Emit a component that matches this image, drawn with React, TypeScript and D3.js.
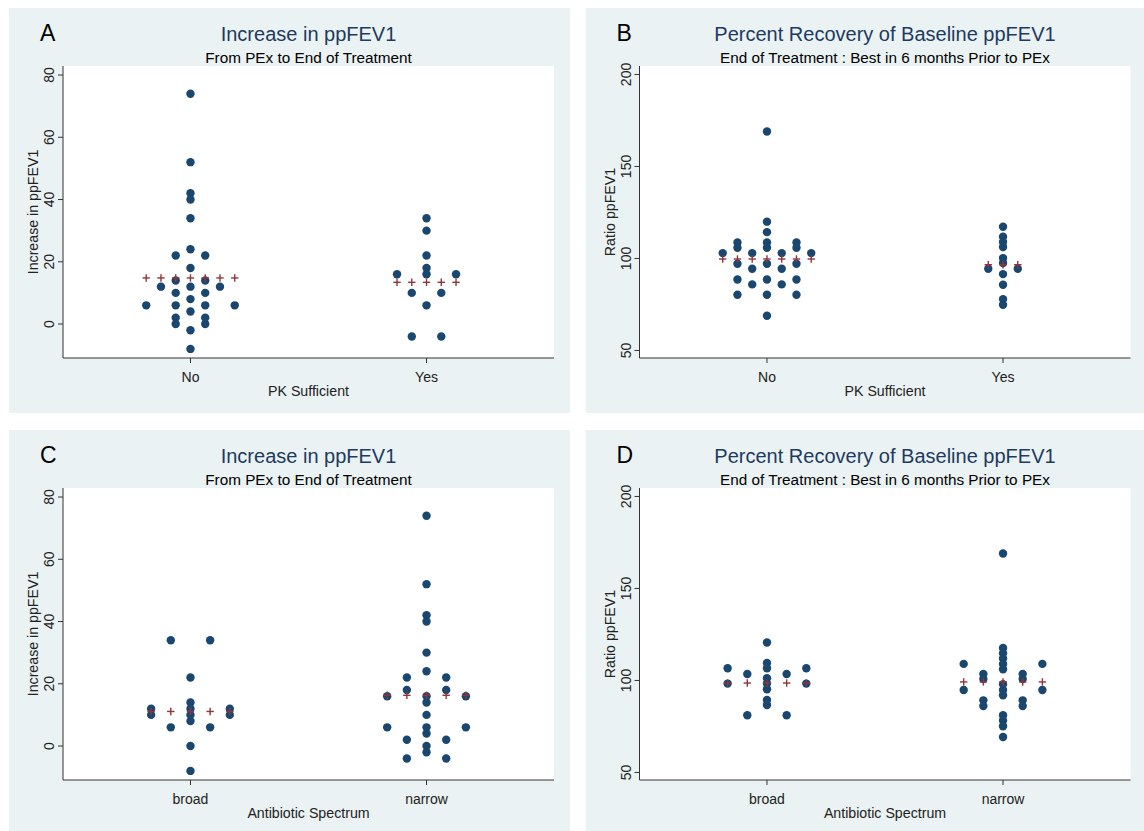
import React from 'react';
import * as d3 from 'd3';

// ---------- data ----------
const categoriesPK = ['No', 'Yes'];
const categoriesAB = ['broad', 'narrow'];
const ticksIncrease = [0, 20, 40, 60, 80];
const ticksRatio = [50, 100, 150, 200];

// Increase in ppFEV1 by PK Sufficient
const incNo = [74, 52, 42, 40, 34, 24, 22, 22, 18, 14, 14, 12, 12, 12, 10, 10, 8, 6, 6, 6, 6, 4, 2, 2, 0, 0, -2, -8];
const incYes = [34, 30, 22, 18, 16, 16, 16, 10, 10, 6, -4, -4];
// Ratio ppFEV1 by PK Sufficient
const ratioNo = [169, 120, 114.3, 108.7, 108.7, 108.7, 105.8, 105.8, 105.8, 102.9, 102.9, 102.9, 102.9, 97.1, 97.1, 97.1, 94.4, 94.4, 88.6, 88.6, 88.6, 85.9, 85.9, 80.3, 80.3, 80.3, 68.9];
const ratioYes = [117.2, 111.8, 108.9, 106.2, 100.2, 97.5, 94.4, 94.4, 91.5, 85.7, 77.9, 74.8];
// Increase in ppFEV1 by Antibiotic Spectrum
const incBroad = [34, 34, 22, 14, 12, 12, 12, 10, 10, 10, 8, 6, 6, 0, -8];
const incNarrow = [74, 52, 42, 40, 30, 24, 22, 22, 18, 18, 16, 16, 16, 14, 10, 6, 6, 6, 4, 2, 2, 0, -2, -4, -4];
// Ratio ppFEV1 by Antibiotic Spectrum
const ratioBroad = [120.6, 109.5, 106.6, 106.6, 106.6, 103.5, 103.5, 101.2, 98.3, 98.3, 98.3, 95.2, 89.4, 86.7, 81.1, 81.1];
const ratioNarrow = [169, 117.7, 114.8, 111.9, 109, 109, 109, 106.1, 103.5, 103.5, 100.8, 100.8, 97.9, 94.8, 94.8, 94.8, 92, 89.2, 89.2, 86.1, 86.1, 81.1, 78.2, 75.1, 69.3];

// group means (plotted as + markers)
const meanIncPK = [14.8, 13.4];
const meanRatioPK = [99.7, 96.6];
const meanIncAB = [11.1, 16.3];
const meanRatioAB = [98.6, 99.2];

// ---------- styling ----------
const FONT = '"Liberation Sans", Arial, sans-serif';
const PANEL_BG = '#eaf2f3';
const DOT = '#1a476f';
const PLUS = '#90353b';
const TITLE = '#1e3a5f';
const AXIS = '#333333';

type PanelProps = {
  x: number; y: number; w: number; h: number;
  letter: string; title: string; subtitle: string;
  yLabel: string; xLabel: string;
  categories: string[]; groups: number[][]; means: number[];
  yDomain: [number, number]; yTicks: number[];
};

function countRows(vals: number[]) {
  const m = new Map<number, number>();
  vals.forEach(v => m.set(v, (m.get(v) || 0) + 1));
  return m;
}

function Panel(p: PanelProps) {
  const plotL = p.x + 54;
  const plotR = p.x + 545;
  const plotT = p.y + 58;
  const plotB = p.y + 350;
  const xs = d3.scaleLinear().domain([-0.54, 1.54]).range([plotL, plotR]);
  const ys = d3.scaleLinear().domain(p.yDomain).range([plotB, plotT]);
  const rowsPerGroup = p.groups.map(countRows);
  const groupMax = rowsPerGroup.map(m => d3.max(Array.from(m.values())) || 1);
  const maxN = d3.max(groupMax) || 1;
  const spacing = 0.5 / maxN; // in x units between neighbouring dots

  const dots: { cx: number; cy: number; key: string }[] = [];
  p.groups.forEach((vals, gi) => {
    rowsPerGroup[gi].forEach((n, v) => {
      for (let i = 0; i < n; i++) {
        const off = (i - (n - 1) / 2) * spacing;
        dots.push({ cx: xs(gi + off), cy: ys(v), key: `${gi}-${v}-${i}` });
      }
    });
  });
  const pluses: { cx: number; cy: number; key: string }[] = [];
  p.means.forEach((m, gi) => {
    const k = groupMax[gi];
    for (let j = -(k - 1); j <= k - 1; j++) {
      pluses.push({ cx: xs(gi + j * spacing / 2), cy: ys(m), key: `p${gi}-${j}` });
    }
  });
  const cx = (plotL + plotR) / 2;
  const cy = (plotT + plotB) / 2;
  const ps = 3.7;
  return (
    <g>
      <rect x={p.x} y={p.y} width={p.w} height={p.h} fill={PANEL_BG} />
      <rect x={plotL} y={plotT} width={plotR - plotL} height={plotB - plotT} fill="#ffffff" />
      <text x={p.x + 31} y={p.y + 33} fontFamily={FONT} fontSize={23} fill="#000">{p.letter}</text>
      <text x={cx} y={p.y + 32.5} textAnchor="middle" fontFamily={FONT} fontSize={20} fill={TITLE}>{p.title}</text>
      <text x={cx} y={p.y + 54.5} textAnchor="middle" fontFamily={FONT} fontSize={15.3} fill="#000">{p.subtitle}</text>
      {/* y axis */}
      <line x1={plotL} x2={plotL} y1={plotT} y2={plotB} stroke={AXIS} strokeWidth={1} />
      {p.yTicks.map(t => (
        <g key={t}>
          <line x1={plotL - 5} x2={plotL} y1={ys(t)} y2={ys(t)} stroke={AXIS} strokeWidth={1} />
          <text transform={`translate(${plotL - 9},${ys(t)}) rotate(-90)`} textAnchor="middle"
            fontFamily={FONT} fontSize={14} fill="#222">{t}</text>
        </g>
      ))}
      <text transform={`translate(${plotL - 25},${cy}) rotate(-90)`} textAnchor="middle"
        fontFamily={FONT} fontSize={14.2} fill="#222">{p.yLabel}</text>
      {/* x axis */}
      <line x1={plotL} x2={plotR} y1={plotB} y2={plotB} stroke={AXIS} strokeWidth={1} />
      {p.categories.map((c, i) => (
        <g key={c}>
          <line x1={xs(i)} x2={xs(i)} y1={plotB} y2={plotB + 5} stroke={AXIS} strokeWidth={1} />
          <text x={xs(i)} y={plotB + 23.5} textAnchor="middle" fontFamily={FONT} fontSize={14} fill="#222">{c}</text>
        </g>
      ))}
      <text x={cx} y={plotB + 37.5} textAnchor="middle" fontFamily={FONT} fontSize={14.2} fill="#222">{p.xLabel}</text>
      {/* marks */}
      {dots.map(d => <circle key={d.key} cx={d.cx} cy={d.cy} r={4.2} fill={DOT} />)}
      {pluses.map(d => (
        <g key={d.key} stroke={PLUS} strokeWidth={1.4}>
          <line x1={d.cx - ps} x2={d.cx + ps} y1={d.cy} y2={d.cy} />
          <line x1={d.cx} x2={d.cx} y1={d.cy - ps} y2={d.cy + ps} />
        </g>
      ))}
    </g>
  );
}

export default function App() {
  const incDomain: [number, number] = [-10.92, 82.9];
  const ratioDomain: [number, number] = [45.9, 204.6];
  return (
    <svg width={1144} height={831} style={{ position: 'absolute', left: 0, top: 0, background: '#fff' }}>
      <Panel x={9} y={8} w={561} h={405} letter="A" title="Increase in ppFEV1"
        subtitle="From PEx to End of Treatment" yLabel="Increase in ppFEV1" xLabel="PK Sufficient"
        categories={categoriesPK} groups={[incNo, incYes]} means={meanIncPK}
        yDomain={incDomain} yTicks={ticksIncrease} />
      <Panel x={585.5} y={8} w={561} h={405} letter="B" title="Percent Recovery of Baseline ppFEV1"
        subtitle="End of Treatment : Best in 6 months Prior to PEx" yLabel="Ratio ppFEV1" xLabel="PK Sufficient"
        categories={categoriesPK} groups={[ratioNo, ratioYes]} means={meanRatioPK}
        yDomain={ratioDomain} yTicks={ticksRatio} />
      <Panel x={9} y={430} w={561} h={405} letter="C" title="Increase in ppFEV1"
        subtitle="From PEx to End of Treatment" yLabel="Increase in ppFEV1" xLabel="Antibiotic Spectrum"
        categories={categoriesAB} groups={[incBroad, incNarrow]} means={meanIncAB}
        yDomain={incDomain} yTicks={ticksIncrease} />
      <Panel x={585.5} y={430} w={561} h={405} letter="D" title="Percent Recovery of Baseline ppFEV1"
        subtitle="End of Treatment : Best in 6 months Prior to PEx" yLabel="Ratio ppFEV1" xLabel="Antibiotic Spectrum"
        categories={categoriesAB} groups={[ratioBroad, ratioNarrow]} means={meanRatioAB}
        yDomain={ratioDomain} yTicks={ticksRatio} />
    </svg>
  );
}
